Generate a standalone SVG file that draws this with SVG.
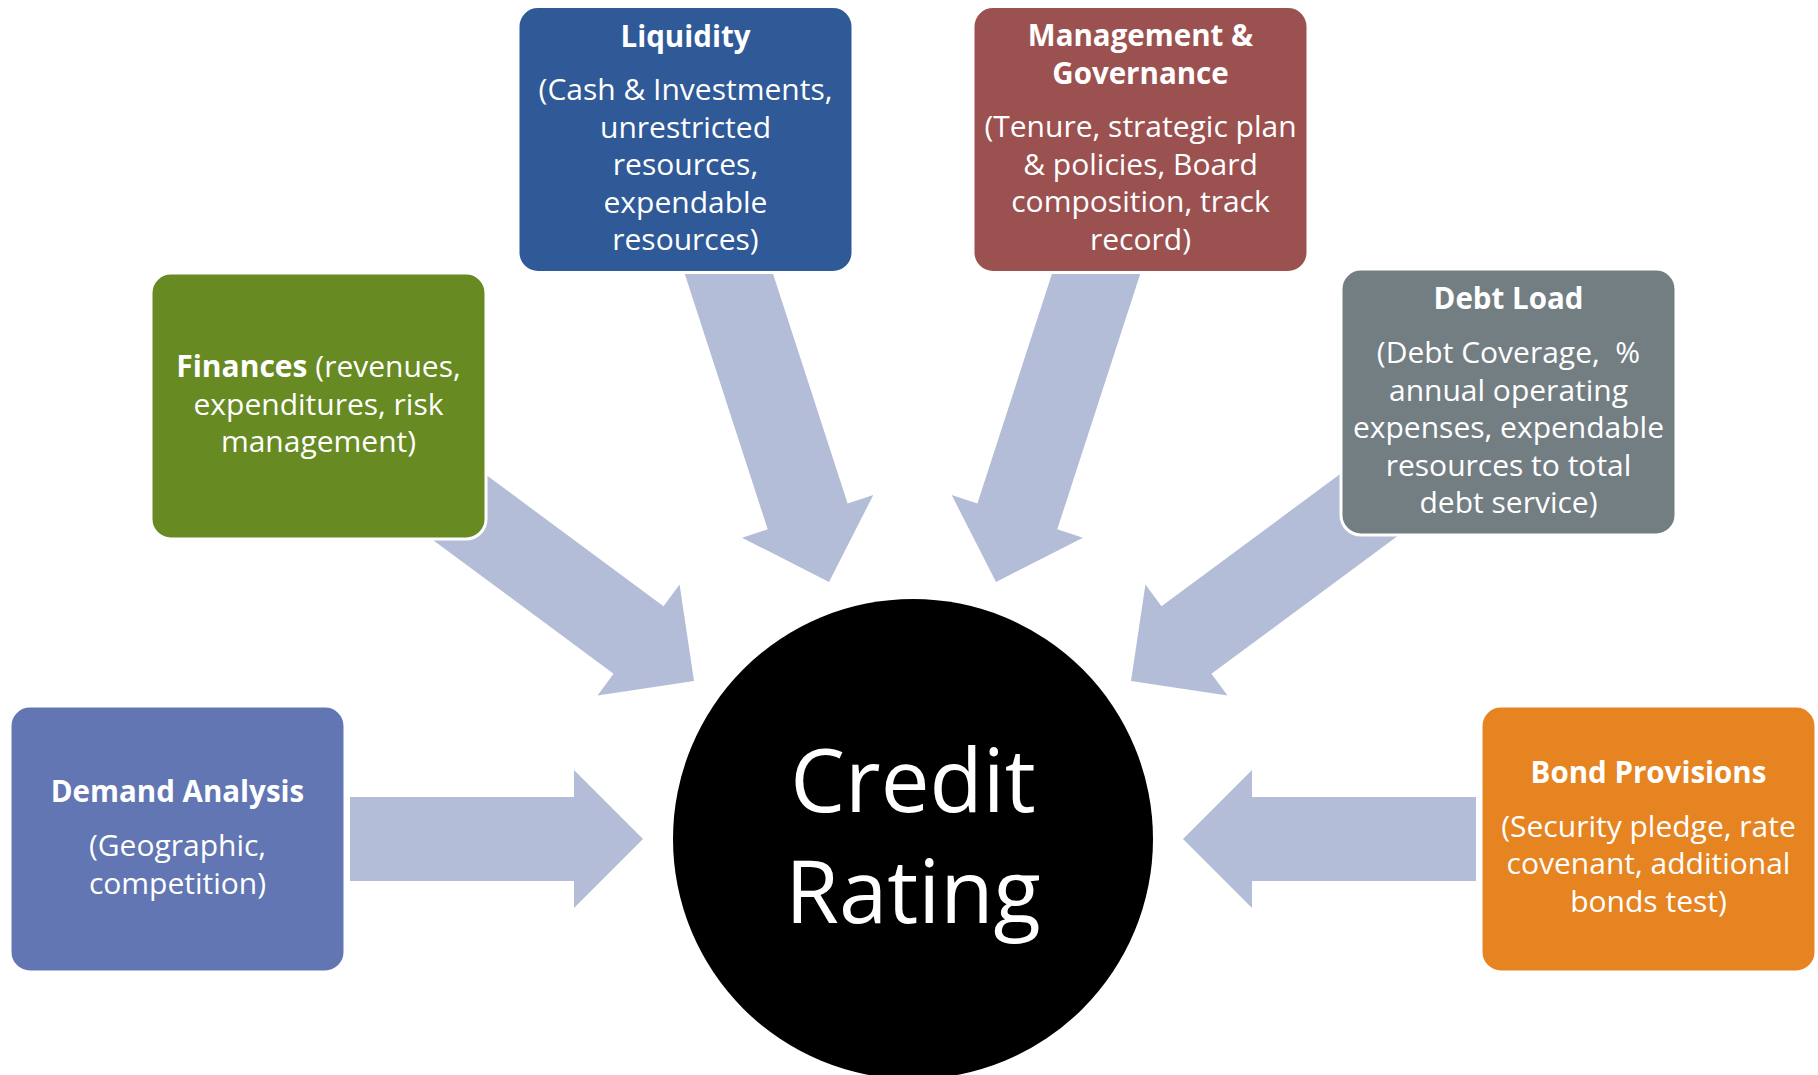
<svg xmlns="http://www.w3.org/2000/svg" xmlns:xlink="http://www.w3.org/1999/xlink" width="1818" height="1075" viewBox="0 0 1818 1075">
  <style>
    .box { stroke: #ffffff; stroke-width: 3; }
    .t { font-family: "Open Sans", "Noto Sans", "Liberation Sans", sans-serif; fill: #ffffff; text-anchor: middle; font-size: 30px; }
    .b { font-weight: bold; font-size: 29.5px; }
    .big { font-family: "Open Sans", "Noto Sans", "Liberation Sans", sans-serif; fill: #ffffff; text-anchor: middle; font-size: 87px; }
    .arrow { fill: #B4BDD7; }
  </style>
  <defs>
    <!-- block arrow pointing along +x with its tip at the origin -->
    <path id="arrowShort" class="arrow" d="M0,0 L-69,-69 L-69,-42 L-293,-42 L-293,42 L-69,42 L-69,69 Z"/>
    <path id="arrowDiag" class="arrow" d="M0,0 L-69,-69 L-69,-42 L-330,-42 L-330,42 L-69,42 L-69,69 Z"/>
    <path id="arrowLong" class="arrow" d="M0,0 L-69,-69 L-69,-42 L-350,-42 L-350,42 L-69,42 L-69,69 Z"/>
  </defs>

  <rect width="1818" height="1075" fill="#ffffff"/>

  <g id="connectors">
    <use xlink:href="#arrowShort" href="#arrowShort" transform="translate(643,839)"/>
    <use xlink:href="#arrowShort" href="#arrowShort" transform="translate(1183,839) rotate(180)"/>
    <use xlink:href="#arrowDiag" href="#arrowDiag" transform="translate(694,681) rotate(36.5)"/>
    <use xlink:href="#arrowDiag" href="#arrowDiag" transform="translate(1131,681) rotate(143.5)"/>
    <use xlink:href="#arrowLong" href="#arrowLong" transform="translate(829,582) rotate(72)"/>
    <use xlink:href="#arrowLong" href="#arrowLong" transform="translate(996,582) rotate(108)"/>
  </g>

  <g id="demand-analysis">
    <rect class="box" x="10" y="706" width="335" height="266" rx="20" fill="#6176B3"/>
    <text class="t b" x="177.5" y="802">Demand Analysis</text>
    <text class="t" x="177.5" y="856">(Geographic,</text>
    <text class="t" x="177.5" y="893.5">competition)</text>
  </g>

  <g id="finances">
    <rect class="box" x="151" y="273" width="335" height="266" rx="20" fill="#678A22"/>
    <text class="t" x="318.5" y="377"><tspan font-weight="bold">Finances</tspan> (revenues,</text>
    <text class="t" x="318.5" y="414.5">expenditures, risk</text>
    <text class="t" x="318.5" y="452">management)</text>
  </g>

  <g id="liquidity">
    <rect class="box" x="518" y="6.5" width="335" height="266" rx="20" fill="#2F5997"/>
    <text class="t b" x="685.5" y="47">Liquidity</text>
    <text class="t" x="685.5" y="100">(Cash &amp; Investments,</text>
    <text class="t" x="685.5" y="137.5">unrestricted</text>
    <text class="t" x="685.5" y="175">resources,</text>
    <text class="t" x="685.5" y="212.5">expendable</text>
    <text class="t" x="685.5" y="250">resources)</text>
  </g>

  <g id="management-governance">
    <rect class="box" x="973" y="6.5" width="335" height="266" rx="20" fill="#9C5151"/>
    <text class="t b" x="1140.5" y="46">Management &amp;</text>
    <text class="t b" x="1140.5" y="84">Governance</text>
    <text class="t" x="1140.5" y="137">(Tenure, strategic plan</text>
    <text class="t" x="1140.5" y="174.5">&amp; policies, Board</text>
    <text class="t" x="1140.5" y="212">composition, track</text>
    <text class="t" x="1140.5" y="249.5">record)</text>
  </g>

  <g id="debt-load">
    <rect class="box" x="1341" y="269" width="335" height="266" rx="20" fill="#737E83"/>
    <text class="t b" x="1508.5" y="309">Debt Load</text>
    <text class="t" x="1508.5" y="363" xml:space="preserve">(Debt Coverage,  %</text>
    <text class="t" x="1508.5" y="400.5">annual operating</text>
    <text class="t" x="1508.5" y="438">expenses, expendable</text>
    <text class="t" x="1508.5" y="475.5">resources to total</text>
    <text class="t" x="1508.5" y="513">debt service)</text>
  </g>

  <g id="bond-provisions">
    <rect class="box" x="1481" y="706" width="335" height="266" rx="20" fill="#E68422"/>
    <text class="t b" x="1648.5" y="783">Bond Provisions</text>
    <text class="t" x="1648.5" y="836.5">(Security pledge, rate</text>
    <text class="t" x="1648.5" y="874">covenant, additional</text>
    <text class="t" x="1648.5" y="911.5">bonds test)</text>
  </g>

  <g id="credit-rating">
    <circle cx="913" cy="839" r="240" fill="#000000"/>
    <text class="big" x="913" y="812">Credit</text>
    <text class="big" x="913" y="923">Rating</text>
  </g>
</svg>
